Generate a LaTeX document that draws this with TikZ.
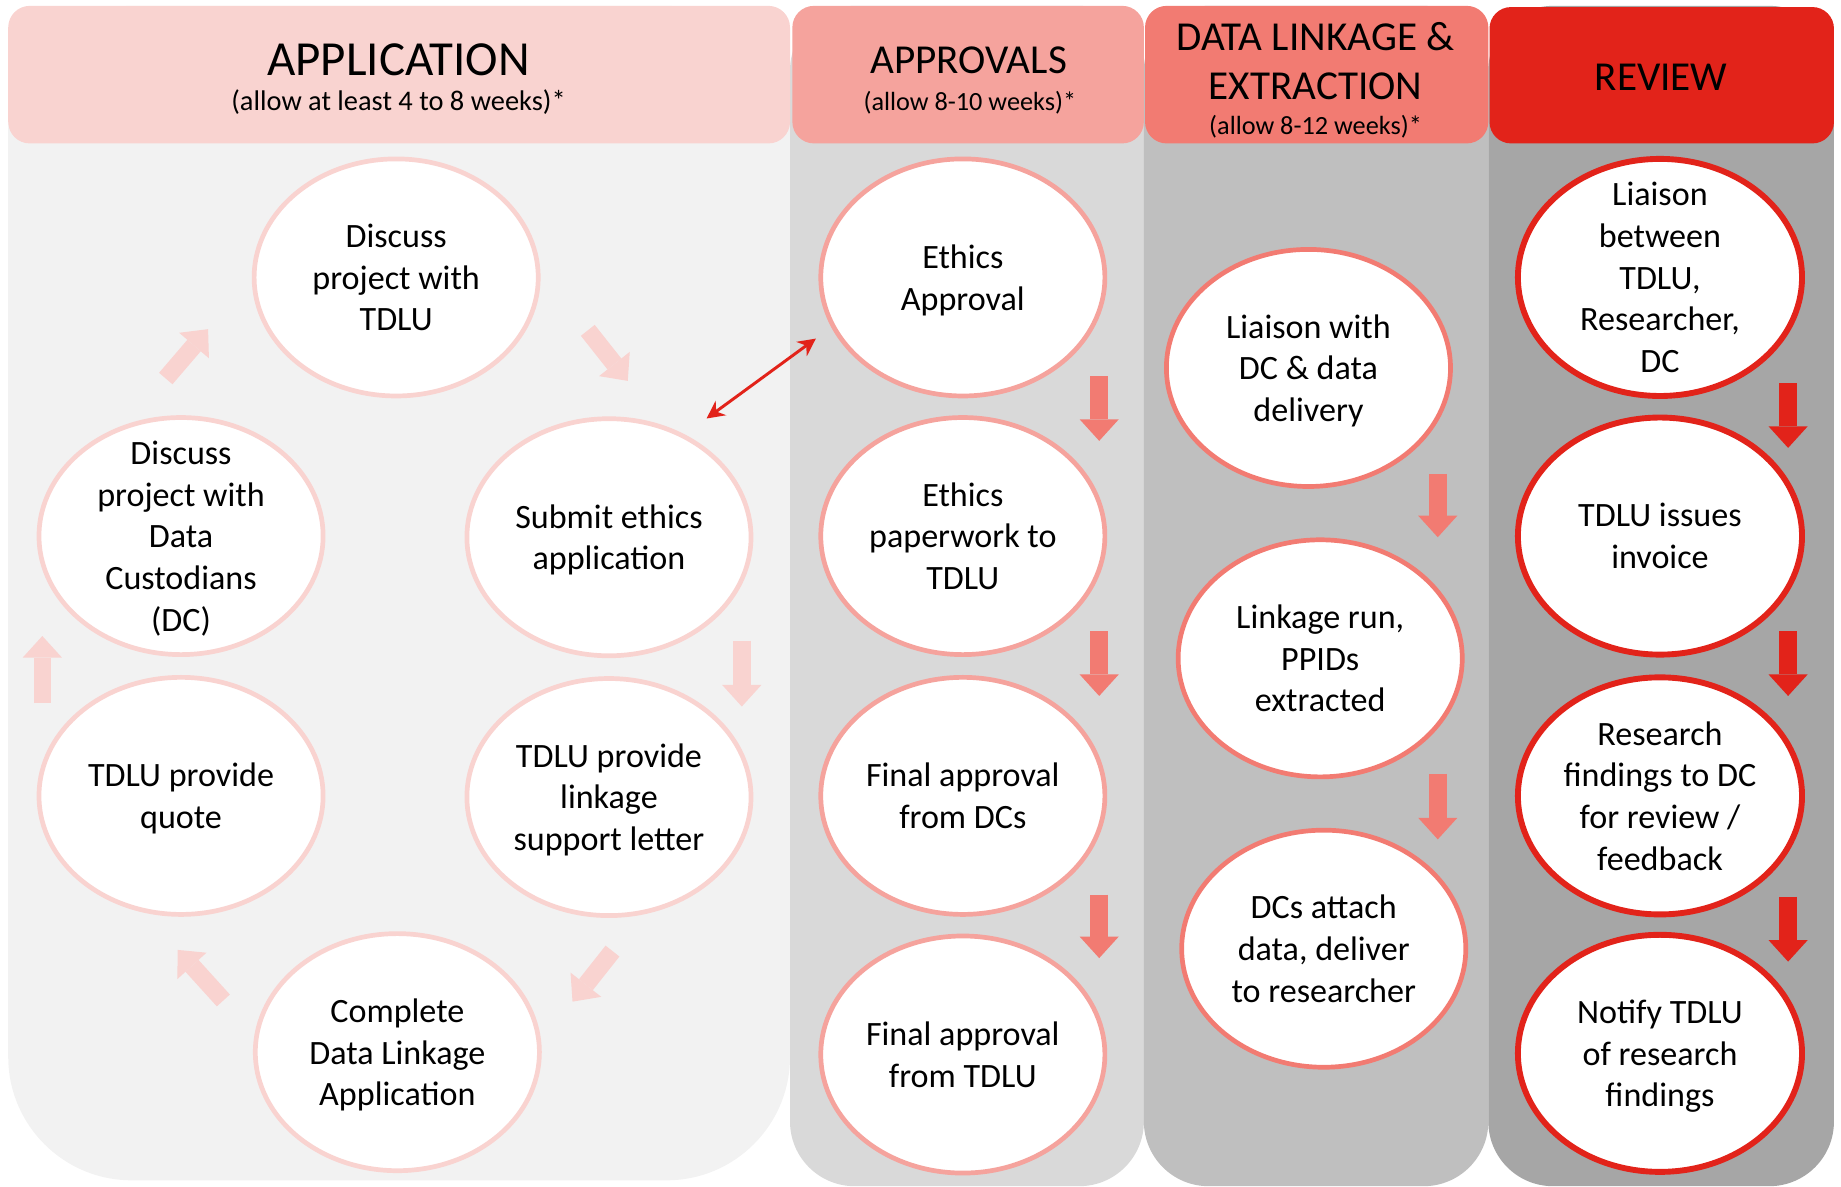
\documentclass[tikz,border=0pt]{standalone}
\usepackage{fontspec}
\setmainfont{Carlito}
\usetikzlibrary{arrows.meta,shapes.geometric,positioning}

\definecolor{pinkA}{HTML}{F9D3D0}
\definecolor{pinkB}{HTML}{F5A39D}
\definecolor{pinkC}{HTML}{F27B72}
\definecolor{redD}{HTML}{E2231A}
\definecolor{grayA}{HTML}{F2F2F2}
\definecolor{grayB}{HTML}{D9D9D9}
\definecolor{grayC}{HTML}{BFBFBF}
\definecolor{grayD}{HTML}{A6A6A6}

\newcommand\stagefont{\fontsize{17.4}{21.3}\selectfont}
\newcommand\bigtitlefont{\fontsize{25}{30}\selectfont}
\newcommand\titlefont{\fontsize{21}{25.2}\selectfont}
\newcommand\notefont{\fontsize{13.4}{16}\selectfont}

\tikzset{
  stage/.style={
      ellipse,
      fill=white,
      line width=2.4pt,
      minimum width=145pt,
      minimum height=121pt,
      inner xsep=0pt,
      inner ysep=-15pt,
      text depth=0pt,
      align=center,
      font=\stagefont
  },
  flow/.style={
      line width=9pt,
      -{Triangle[width=20pt,length=11pt,line width=0pt]}
  }
}

\begin{document}
\begin{tikzpicture}[x=0.6pt,y=-0.6pt,
    appstage/.style={stage,draw=pinkA},
    aprstage/.style={stage,draw=pinkB},
    linkstage/.style={stage,draw=pinkC},
    revstage/.style={stage,draw=redD,line width=3pt},
    title/.style={align=center,inner sep=0pt}]
    \useasboundingbox (0,0) rectangle (1566,1009);

    % columns
    \fill[grayA,rounded corners=63pt] (7,5) rectangle (672,1004);
    \fill[grayB,rounded corners=33pt] (672,5) rectangle (973,1009);
    \fill[grayC,rounded corners=33pt] (973,5) rectangle (1266,1009);
    \fill[grayD,rounded corners=33pt] (1266,5) rectangle (1560,1009);

    % headers
    \fill[pinkA,rounded corners=11pt] (7,5) rectangle (672,122);
    \fill[pinkB,rounded corners=11pt] (674,5) rectangle (973,122);
    \fill[pinkC,rounded corners=11pt] (974,5) rectangle (1266,122);
    \fill[redD,rounded corners=11pt] (1267,6) rectangle (1560,122);

    \node[title,font=\bigtitlefont] (apptitle) at (339,51) {APPLICATION};
    \node[title,font=\fontsize{14.5}{17}\selectfont] (appnote) at (339,87) {(allow at least 4 to 8 weeks)*};
    \node[title,font=\titlefont] (aprtitle) at (824,51) {APPROVALS};
    \node[title,font=\notefont] (aprnote) at (825,87) {(allow 8-10 weeks)*};
    \node[title,font=\titlefont] (linktitle) at (1119,52) {DATA LINKAGE \&\\EXTRACTION};
    \node[title,font=\notefont] (linknote) at (1119,108) {(allow 8-12 weeks)*};
    \node[title,font=\titlefont] (revtitle) at (1413,66) {REVIEW};

    % application cycle
    \node[appstage] (talktdlu) at (337,236) {Discuss\\project with\\TDLU};
    \node[appstage] (talkdc) at (154,456) {Discuss\\project with\\Data\\Custodians\\(DC)};
    \node[appstage] (submit) at (518,457) {Submit ethics\\application};
    \node[appstage] (quote) at (154,677) {TDLU provide\\quote};
    \node[appstage] (letter) at (518,678) {TDLU provide\\linkage\\support letter};
    \node[appstage] (dlapp) at (338,895) {Complete\\Data Linkage\\Application};

    % approvals
    \node[aprstage] (ethapp) at (819,236) {Ethics\\Approval};
    \node[aprstage] (ethpaper) at (819,456) {Ethics\\paperwork to\\TDLU};
    \node[aprstage] (dcfinal) at (819,677) {Final approval\\from DCs};
    \node[aprstage] (tdlufinal) at (819,897) {Final approval\\from TDLU};

    % linkage
    \node[linkstage] (liaison) at (1113,313) {Liaison with\\DC \& data\\delivery};
    \node[linkstage] (linkrun) at (1123,560) {Linkage run,\\PPIDs\\extracted};
    \node[linkstage] (attach) at (1126,807) {DCs attach\\data, deliver\\to researcher};

    % review
    \node[revstage] (liaisonall) at (1412,236) {Liaison\\between\\TDLU,\\Researcher,\\DC};
    \node[revstage] (invoice) at (1412,456) {TDLU issues\\invoice};
    \node[revstage] (findings) at (1412,677) {Research\\findings to DC\\for review /\\feedback};
    \node[revstage] (notify) at (1412,896) {Notify TDLU\\of research\\findings};

    % arrow ends
    \coordinate (c1a) at (141,322); \coordinate (c1b) at (177,280);
    \coordinate (c2a) at (500,281); \coordinate (c2b) at (534,324);
    \coordinate (c3a) at (631,545); \coordinate (c3b) at (631,601);
    \coordinate (c4a) at (521,809); \coordinate (c4b) at (487,852);
    \coordinate (c5a) at (190,851); \coordinate (c5b) at (151,808);
    \coordinate (c6a) at (36,598);  \coordinate (c6b) at (36,541);
    \coordinate (p1a) at (935,320); \coordinate (p1b) at (935,375);
    \coordinate (p2a) at (935,537); \coordinate (p2b) at (935,592);
    \coordinate (p3a) at (935,761); \coordinate (p3b) at (935,815);
    \coordinate (l1a) at (1223,403); \coordinate (l1b) at (1223,457);
    \coordinate (l2a) at (1223,658); \coordinate (l2b) at (1223,714);
    \coordinate (r1a) at (1521,326); \coordinate (r1b) at (1521,381);
    \coordinate (r2a) at (1521,537); \coordinate (r2b) at (1521,592);
    \coordinate (r3a) at (1521,763); \coordinate (r3b) at (1521,818);
    \coordinate (ethlo) at (601,356); \coordinate (ethhi) at (694,288);

    \draw[flow,pinkA] (c1a) -- (c1b);
    \draw[flow,pinkA] (c2a) -- (c2b);
    \draw[flow,pinkA] (c3a) -- (c3b);
    \draw[flow,pinkA] (c4a) -- (c4b);
    \draw[flow,pinkA] (c5a) -- (c5b);
    \draw[flow,pinkA] (c6a) -- (c6b);
    \draw[flow,pinkC] (p1a) -- (p1b);
    \draw[flow,pinkC] (p2a) -- (p2b);
    \draw[flow,pinkC] (p3a) -- (p3b);
    \draw[flow,pinkC] (l1a) -- (l1b);
    \draw[flow,pinkC] (l2a) -- (l2b);
    \draw[flow,redD] (r1a) -- (r1b);
    \draw[flow,redD] (r2a) -- (r2b);
    \draw[flow,redD] (r3a) -- (r3b);
    \draw[redD,line width=1.5pt,{Stealth[length=9pt,width=9pt]}-{Stealth[length=9pt,width=9pt]}] (ethlo) -- (ethhi);
\end{tikzpicture}
\end{document}
